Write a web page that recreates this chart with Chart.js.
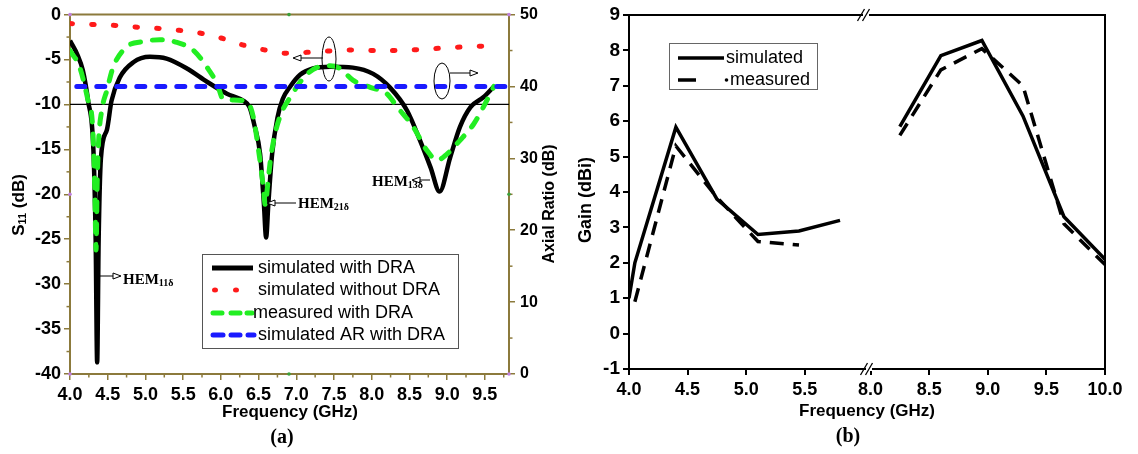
<!DOCTYPE html>
<html><head><meta charset="utf-8">
<script src="https://cdn.jsdelivr.net/npm/chart.js@4.4.1/dist/chart.umd.min.js"></script>
<style>
html,body{margin:0;padding:0;background:#fff;width:1138px;height:454px;overflow:hidden;}
#wa{position:absolute;left:0;top:0;width:560px;height:454px;}
#wb{position:absolute;left:560px;top:0;width:578px;height:454px;}
</style></head><body>
<div id="wa"><canvas id="ca" width="560" height="454"></canvas></div>
<div id="wb"><canvas id="cb" width="578" height="454"></canvas></div>
<script>
// ---------- (a) S11 / Axial ratio data ----------
const simDraFreq = [4.00,4.10,4.17,4.24,4.31,4.34,4.36,4.38,4.41,4.49,4.55,4.66,4.84,5.06,5.28,5.55,5.82,6.08,6.30,6.38,6.45,6.52,6.57,6.60,6.63,6.68,6.75,6.82,6.92,7.05,7.22,7.45,7.75,8.02,8.24,8.47,8.64,8.78,8.90,9.04,9.17,9.31,9.48,9.62];
const simDraS11  = [-2.9,-4.5,-6.2,-9.6,-15,-25,-38.7,-25,-16,-12.8,-9.6,-7.0,-5.3,-4.7,-4.9,-6.0,-7.5,-8.8,-9.6,-10.3,-12.5,-15.5,-21,-24.8,-21,-15.5,-11.5,-9.4,-8.0,-6.7,-6.0,-5.8,-5.9,-6.6,-8.1,-10.7,-14.0,-17.0,-19.7,-15.9,-12.5,-10.3,-9.2,-8.0];
const noDraFreq  = [4.0,4.3,4.6,4.9,5.2,5.45,5.75,6.0,6.3,6.56,6.85,7.14,7.43,7.71,8.0,8.3,8.6,8.9,9.2,9.5];
const noDraS11   = [-1.0,-1.1,-1.2,-1.4,-1.55,-1.75,-2.1,-2.6,-3.4,-3.9,-4.3,-4.2,-4.05,-3.95,-4.0,-4.0,-3.9,-3.75,-3.6,-3.5];
const measFreq   = [4.00,4.13,4.24,4.30,4.33,4.345,4.36,4.38,4.42,4.49,4.57,4.75,4.97,5.19,5.42,5.64,5.82,5.95,6.03,6.16,6.35,6.43,6.50,6.56,6.59,6.62,6.66,6.72,6.80,6.92,7.10,7.27,7.45,7.58,7.75,7.98,8.20,8.34,8.55,8.73,8.87,9.00,9.17,9.35,9.48,9.62];
const measS11    = [-4.0,-5.9,-9.6,-12.5,-20,-26.2,-19,-14,-10.7,-8.4,-5.9,-3.6,-3.0,-2.8,-3.1,-4.0,-5.9,-7.7,-9.4,-9.5,-9.7,-11.4,-15.1,-19,-21.2,-19,-16,-13.2,-11,-9.2,-7.0,-5.9,-5.7,-6.0,-7.3,-8.1,-8.8,-10.3,-12.5,-15.1,-16.2,-15.5,-14.0,-12.2,-10.3,-8.0];
const arFreq     = [4.09,9.82];
const arValue    = [40,40];
const refFreq    = [4.0,9.82];
const refLevel   = [-10,-10];
const freqTicksA = [4.0,4.5,5.0,5.5,6.0,6.5,7.0,7.5,8.0,8.5,9.0,9.5];
const legendA    = ['simulated with DRA','simulated without DRA','measured with DRA','simulated AR with DRA'];

// ---------- (b) Gain data ----------
const gainSimFreqLow  = [4.0,4.05,4.4,4.75,5.1,5.45,5.8];
const gainSimLow      = [1.0,2.0,5.83,3.8,2.8,2.9,3.2];
const gainSimFreqHigh = [8.25,8.6,8.95,9.3,9.65,10.0];
const gainSimHigh     = [5.85,7.85,8.28,6.15,3.3,2.1];
const gainMeasFreqLow = [4.05,4.4,4.75,5.1,5.45];
const gainMeasLow     = [0.9,5.3,3.85,2.6,2.5];
const gainMeasFreqHigh= [8.25,8.6,8.95,9.3,9.65,10.0];
const gainMeasHigh    = [5.6,7.45,8.05,7.0,3.1,1.95];
const freqTicksB      = [4.0,4.5,5.0,5.5,8.0,8.5,9.0,9.5,10.0];
const legendB         = ['simulated','measured'];
const BREAK_SHIFT = 1.94;   // axis break: 8.0 GHz sits right after 6.0 GHz
const toAxis = f => (f >= 7 ? f - BREAK_SHIFT : f);
const fromAxis = v => (v > 6.02 ? v + BREAK_SHIFT : v);

const pts = (xs, ys, fx) => xs.map((x,i)=>({x: fx ? fx(x) : x, y: ys[i]}));
const BROWN = '#8c7a3c';
const SANS = '"Liberation Sans", Arial, sans-serif';
const SERIF = '"Liberation Serif", "Times New Roman", serif';
const tickFont = {family: SANS, size: 18, weight: 'bold'};
const tickFontR = {family: SANS, size: 16, weight: 'bold'};
const tickFontB = {family: SANS, size: 19, weight: 'bold'};

function arrow(ctx, x1, y1, x2, y2){
  const ang = Math.atan2(y2-y1, x2-x1), L = 8, W = 3;
  const bx = x2 - L*Math.cos(ang), by = y2 - L*Math.sin(ang);
  ctx.beginPath(); ctx.moveTo(x1,y1); ctx.lineTo(bx,by); ctx.stroke();
  ctx.beginPath();
  ctx.moveTo(x2,y2);
  ctx.lineTo(bx + W*Math.sin(ang), by - W*Math.cos(ang));
  ctx.lineTo(bx - W*Math.sin(ang), by + W*Math.cos(ang));
  ctx.closePath(); ctx.fillStyle='#fff'; ctx.fill(); ctx.stroke();
}
function hem(ctx, x, yb, sub){
  ctx.fillStyle='#000'; ctx.textAlign='left'; ctx.textBaseline='alphabetic';
  ctx.font = 'bold 15px ' + SERIF; ctx.fillText('HEM', x, yb);
  const w = ctx.measureText('HEM').width;
  ctx.font = 'bold 10px ' + SERIF; ctx.fillText(sub, x + w, yb + 2);
}
function rotText(ctx, parts, cx, cy){
  ctx.save(); ctx.translate(cx, cy); ctx.rotate(-Math.PI/2);
  let total = 0; parts.forEach(p=>{ctx.font=p.font; p.w=ctx.measureText(p.t).width; total+=p.w;});
  let x = -total/2; ctx.textBaseline='middle'; ctx.textAlign='left'; ctx.fillStyle='#000';
  parts.forEach(p=>{ctx.font=p.font; ctx.fillText(p.t, x, p.dy||0); x+=p.w;});
  ctx.restore();
}

const decorA = {
  id: 'decorA',
  afterDraw(chart){
    const {ctx, chartArea:a, scales:{x, y, y2}} = chart;
    ctx.save();
    ctx.strokeStyle = BROWN; ctx.lineWidth = 2;
    ctx.beginPath(); ctx.moveTo(a.left, a.top); ctx.lineTo(a.right+1, a.top); ctx.stroke();
    ctx.lineWidth = 1.5;
    for (let v = 4.25; v < 9.82; v += 0.5){ const px = x.getPixelForValue(v); ctx.beginPath(); ctx.moveTo(px, a.bottom); ctx.lineTo(px, a.bottom+3.5); ctx.stroke(); }
    for (let v = -37.5; v < 0; v += 5){ const py = y.getPixelForValue(v); ctx.beginPath(); ctx.moveTo(a.left, py); ctx.lineTo(a.left-3.5, py); ctx.stroke(); }
    for (let v = 5; v < 50; v += 10){ const py = y2.getPixelForValue(v); ctx.beginPath(); ctx.moveTo(a.right, py); ctx.lineTo(a.right+3.5, py); ctx.stroke(); }
    [[a.left,a.top,'#c080e0'],[a.left,y.getPixelForValue(-20),'#c080e0'],[a.left,a.bottom,'#c080e0'],[a.right,a.top,'#c080e0'],[a.right,a.bottom,'#c080e0'],[289,a.top,'#3aa03a'],[289,a.bottom,'#3aa03a'],[a.right,y.getPixelForValue(-20),'#3aa03a']].forEach(d=>{ctx.fillStyle=d[2]; ctx.beginPath(); ctx.arc(d[0],d[1],1.8,0,Math.PI*2); ctx.fill();});
    rotText(ctx, [{t:'S', font:'bold 17px '+SANS},{t:'11', font:'bold 11px '+SANS, dy:4},{t:' (dB)', font:'bold 17px '+SANS}], 19, 205);
    rotText(ctx, [{t:'Axial Ratio (dB)', font:'bold 16px '+SANS}], 550, 204);
    ctx.fillStyle='#000'; ctx.textAlign='center'; ctx.textBaseline='middle';
    ctx.font = 'bold 17px ' + SANS; ctx.fillText('Frequency (GHz)', 290, 412);
    ctx.font = 'bold 20px ' + SERIF; ctx.fillText('(a)', 282, 438);
    ctx.strokeStyle = '#555'; ctx.lineWidth = 1;
    ctx.strokeRect(202.5, 254.5, 256, 94);
    const rows = [268, 290, 313, 335];
    ctx.lineCap = 'butt';
    ctx.strokeStyle = '#000'; ctx.lineWidth = 5;
    ctx.beginPath(); ctx.moveTo(212, rows[0]); ctx.lineTo(253, rows[0]); ctx.stroke();
    ctx.fillStyle = '#ff1a1a';
    [215, 236].forEach(cx=>{ctx.beginPath(); ctx.ellipse(cx, rows[1], 3, 2.5, 0, 0, Math.PI*2); ctx.fill();});
    ctx.lineCap = 'round';
    ctx.strokeStyle = '#22ee22';
    [[213,222],[231,240],[247,252]].forEach(s=>{ctx.beginPath(); ctx.moveTo(s[0],rows[2]); ctx.lineTo(s[1],rows[2]); ctx.stroke();});
    ctx.strokeStyle = '#1a1aff';
    [[213,223],[231,240],[248,254]].forEach(s=>{ctx.beginPath(); ctx.moveTo(s[0],rows[3]); ctx.lineTo(s[1],rows[3]); ctx.stroke();});
    ctx.lineCap = 'butt';
    ctx.fillStyle = '#000'; ctx.textAlign='left'; ctx.textBaseline='middle';
    ctx.font = '18px ' + SANS;
    ctx.fillText(legendA[0], 258, rows[0]);
    ctx.fillText(legendA[1], 258, rows[1]);
    ctx.fillText(legendA[2], 253, rows[2]);
    ctx.fillText(legendA[3], 258, rows[3]);
    ctx.strokeStyle = '#000'; ctx.lineWidth = 1;
    arrow(ctx, 100, 276, 121, 276); hem(ctx, 123, 284, '11δ');
    arrow(ctx, 296, 203, 267, 203); hem(ctx, 298, 208, '21δ');
    arrow(ctx, 430, 180, 412, 180); hem(ctx, 372, 186, '13δ');
    ctx.beginPath(); ctx.ellipse(329, 59, 7, 22, 0, 0, Math.PI*2); ctx.stroke();
    arrow(ctx, 323, 58, 293, 58);
    ctx.beginPath(); ctx.ellipse(442, 81, 8, 18, 0, 0, Math.PI*2); ctx.stroke();
    arrow(ctx, 450, 73, 478, 73);
    ctx.restore();
  }
};

const decorB = {
  id: 'decorB',
  afterDraw(chart){
    const {ctx, chartArea:a} = chart;
    ctx.save();
    ctx.strokeStyle = '#000'; ctx.lineWidth = 2;
    ctx.beginPath(); ctx.moveTo(a.left, a.top); ctx.lineTo(a.right, a.top); ctx.lineTo(a.right, a.bottom); ctx.stroke();
    ctx.fillStyle = '#fff';
    ctx.fillRect(303, a.top-2, 6, 4);
    ctx.fillRect(306, a.bottom-2, 6, 4);
    ctx.lineWidth = 1.3; ctx.strokeStyle='#000';
    [[301,a.top],[306,a.top],[304,a.bottom],[309,a.bottom]].forEach(p=>{ctx.beginPath(); ctx.moveTo(p[0]-3.5,p[1]+6); ctx.lineTo(p[0]+3.5,p[1]-6); ctx.stroke();});
    rotText(ctx, [{t:'Gain (dBi)', font:'bold 18px '+SANS}], 26, 200);
    ctx.fillStyle='#000'; ctx.textAlign='center'; ctx.textBaseline='middle';
    ctx.font = 'bold 17px ' + SANS; ctx.fillText('Frequency (GHz)', 307, 411);
    ctx.font = 'bold 20px ' + SERIF; ctx.fillText('(b)', 288, 437);
    ctx.strokeStyle = '#666'; ctx.lineWidth = 1;
    ctx.strokeRect(109.5, 43.5, 148, 46);
    ctx.strokeStyle = '#000'; ctx.lineWidth = 3.5;
    ctx.beginPath(); ctx.moveTo(118, 58); ctx.lineTo(164, 58); ctx.stroke();
    ctx.beginPath(); ctx.moveTo(118, 80); ctx.lineTo(136, 80); ctx.stroke();
    ctx.fillStyle='#000'; ctx.beginPath(); ctx.arc(166.5, 80, 1.8, 0, Math.PI*2); ctx.fill();
    ctx.textAlign='left'; ctx.font = '18px ' + SANS;
    ctx.fillText(legendB[0], 166, 58);
    ctx.fillText(legendB[1], 170, 80);
    ctx.restore();
  }
};

Chart.defaults.animation = false;

new Chart(document.getElementById('ca'), {
  type: 'line',
  data: { datasets: [
    {label: legendA[3], data: pts(arFreq, arValue), yAxisID:'y2', borderColor:'#1a1aff', borderWidth:5, borderDash:[8,12], borderCapStyle:'round', pointRadius:0, fill:false},
    {label: legendA[1], data: pts(noDraFreq, noDraS11), yAxisID:'y', borderColor:'#ff1a1a', borderWidth:5, borderDash:[2.5,19.2], borderCapStyle:'round', pointRadius:0, cubicInterpolationMode:'monotone', fill:false},
    {label: legendA[2], data: pts(measFreq, measS11), yAxisID:'y', borderColor:'#22ee22', borderWidth:5, borderDash:[10,12], borderCapStyle:'round', pointRadius:0, cubicInterpolationMode:'monotone', fill:false},
    {label: legendA[0], data: pts(simDraFreq, simDraS11), yAxisID:'y', borderColor:'#000', borderWidth:4.5, pointRadius:0, cubicInterpolationMode:'monotone', fill:false},
    {label: '-10 dB', data: pts(refFreq, refLevel), yAxisID:'y', borderColor:'#000', borderWidth:1.2, pointRadius:0, fill:false}
  ]},
  options: {
    responsive:false, animation:false, events:[],
    layout: {padding: {top:14, left:0, right:0, bottom:0}},
    plugins: {legend:{display:false}, tooltip:{enabled:false}},
    scales: {
      x: {type:'linear', min:4.0, max:9.82,
          afterBuildTicks: s => { s.ticks = freqTicksA.map(v=>({value:v})); },
          afterFit: s => { s.height = 80; },
          ticks: {callback: v => Number(v).toFixed(1), font: tickFont, color:'#000', padding:4, maxRotation:0, autoSkip:false},
          grid: {display:true, drawOnChartArea:false, drawTicks:true, tickLength:6, color:BROWN, lineWidth:1.5},
          border: {display:true, color:BROWN, width:2}},
      y: {type:'linear', position:'left', min:-40, max:0,
          afterBuildTicks: s => { const t=[]; for(let v=-40; v<=0; v+=5) t.push({value:v}); s.ticks=t; },
          afterFit: s => { s.width = 70; },
          ticks: {callback: v => String(v), font: tickFont, color:'#000', padding:3},
          grid: {display:true, drawOnChartArea:false, drawTicks:true, tickLength:6, color:BROWN, lineWidth:1.5},
          border: {display:true, color:BROWN, width:2}},
      y2: {type:'linear', position:'right', min:0, max:50,
          afterBuildTicks: s => { const t=[]; for(let v=0; v<=50; v+=10) t.push({value:v}); s.ticks=t; },
          afterFit: s => { s.width = 51; },
          ticks: {callback: v => String(v), font: tickFontR, color:'#000', padding:5},
          grid: {display:true, drawOnChartArea:false, drawTicks:true, tickLength:6, color:BROWN, lineWidth:1.5},
          border: {display:true, color:BROWN, width:2}}
    }
  },
  plugins: [decorA]
});

new Chart(document.getElementById('cb'), {
  type: 'line',
  data: { datasets: [
    {label: legendB[0], data: pts(gainSimFreqLow, gainSimLow, toAxis), borderColor:'#000', borderWidth:3.5, pointRadius:0, tension:0, fill:false},
    {label: legendB[0], data: pts(gainSimFreqHigh, gainSimHigh, toAxis), borderColor:'#000', borderWidth:3.5, pointRadius:0, tension:0, fill:false},
    {label: legendB[1], data: pts(gainMeasFreqLow, gainMeasLow, toAxis), borderColor:'#000', borderWidth:3.5, borderDash:[14,9], pointRadius:0, tension:0, fill:false},
    {label: legendB[1], data: pts(gainMeasFreqHigh, gainMeasHigh, toAxis), borderColor:'#000', borderWidth:3.5, borderDash:[14,9], pointRadius:0, tension:0, fill:false}
  ]},
  options: {
    responsive:false, animation:false, events:[],
    layout: {padding: {top:15, left:0, right:33, bottom:0}},
    plugins: {legend:{display:false}, tooltip:{enabled:false}},
    scales: {
      x: {type:'linear', min:4.0, max:toAxis(10.0),
          afterBuildTicks: s => { s.ticks = freqTicksB.map(f=>({value: toAxis(f)})); },
          afterFit: s => { s.height = 85; },
          ticks: {callback: v => fromAxis(Number(v)).toFixed(1), font: tickFont, color:'#000', padding:4, maxRotation:0, autoSkip:false},
          grid: {display:true, drawOnChartArea:false, drawTicks:true, tickLength:6, color:'#000', lineWidth:2},
          border: {display:true, color:'#000', width:2}},
      y: {type:'linear', position:'left', min:-1, max:9,
          afterBuildTicks: s => { const t=[]; for(let v=-1; v<=9; v+=1) t.push({value:v}); s.ticks=t; },
          afterFit: s => { s.width = 69; },
          ticks: {callback: v => String(v), font: tickFontB, color:'#000', padding:3},
          grid: {display:true, drawOnChartArea:false, drawTicks:true, tickLength:6, color:'#000', lineWidth:2},
          border: {display:true, color:'#000', width:2}}
    }
  },
  plugins: [decorB]
});
</script>
</body></html>
